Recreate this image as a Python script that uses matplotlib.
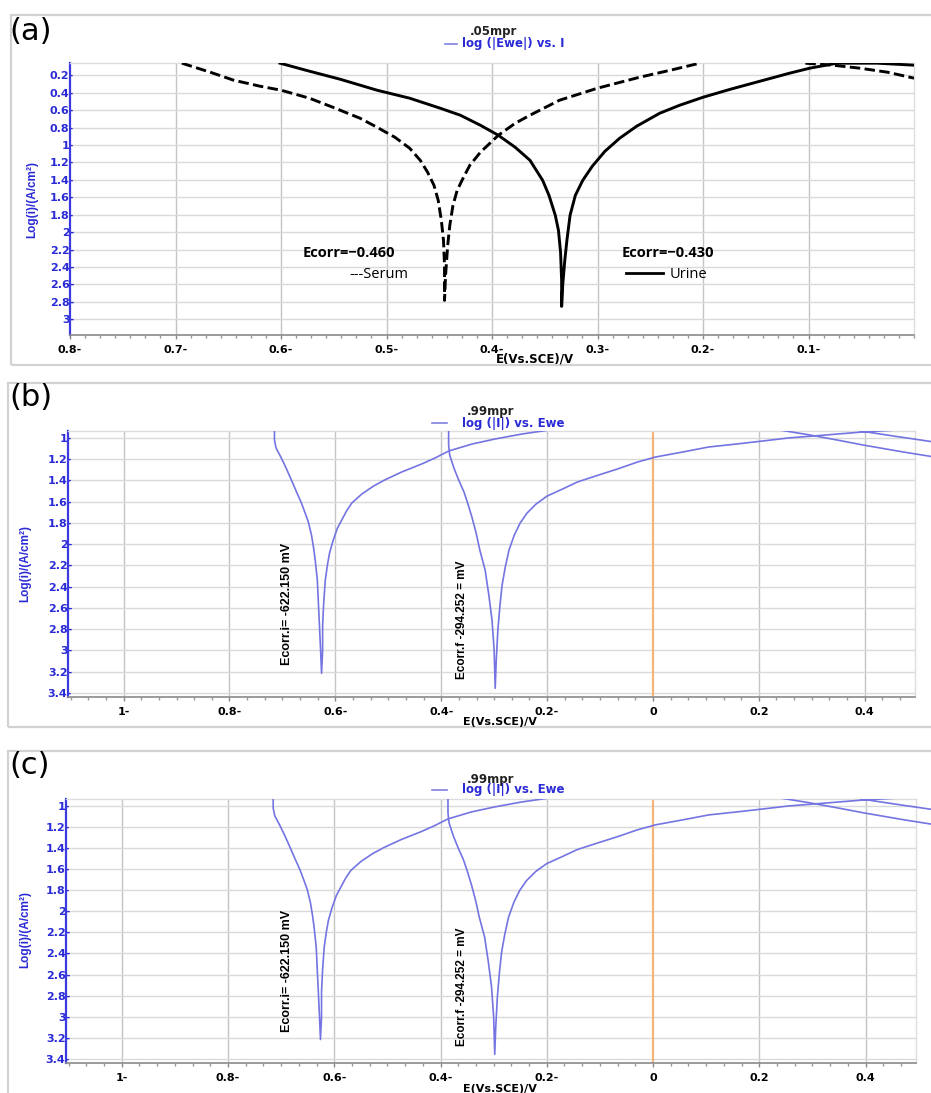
import numpy as np
import matplotlib
matplotlib.use("Agg")
import matplotlib.pyplot as plt
from matplotlib.ticker import MultipleLocator
from matplotlib.patches import Rectangle
from matplotlib.lines import Line2D
from matplotlib.transforms import Bbox, TransformedBbox

# ---------------- data: panel (a) ----------------
a_xticks = [0.8, 0.7, 0.6, 0.5, 0.4, 0.3, 0.2, 0.1]
a_xticklabels = ["0.8-", "0.7-", "0.6-", "0.5-", "0.4-", "0.3-", "0.2-", "0.1-"]
a_yticks = [0.2, 0.4, 0.6, 0.8, 1.0, 1.2, 1.4, 1.6, 1.8, 2.0, 2.2, 2.4, 2.6, 2.8, 3.0]
a_yticklabels = ["0.2-", "0.4-", "0.6-", "0.8-", "1-", "1.2-", "1.4-", "1.6-", "1.8-",
                 "2-", "2.2-", "2.4-", "2.6-", "2.8-", "3-"]

serum_E = [0.694, 0.667, 0.645, 0.620, 0.600, 0.573, 0.551, 0.525, 0.509, 0.492, 0.478,
           0.468, 0.461, 0.455, 0.451, 0.448, 0.446, 0.445, 0.445,
           0.444, 0.442, 0.440, 0.437, 0.433, 0.427, 0.421, 0.411, 0.394, 0.378, 0.364,
           0.336, 0.300, 0.260, 0.231, 0.203,
           np.nan, 0.103, 0.077, 0.051, 0.025, 0.0]
serum_logi = [0.062, 0.166, 0.257, 0.326, 0.372, 0.464, 0.567, 0.694, 0.797, 0.912, 1.038,
              1.176, 1.314, 1.463, 1.635, 1.865, 2.094, 2.381, 2.783,
              2.496, 2.152, 1.922, 1.693, 1.520, 1.371, 1.233, 1.084, 0.889, 0.751, 0.659,
              0.487, 0.349, 0.223, 0.143, 0.062,
              np.nan, 0.062, 0.085, 0.120, 0.166, 0.234]

urine_E = [0.601, 0.573, 0.544, 0.509, 0.478, 0.449, 0.430, 0.411, 0.394, 0.378, 0.364,
           0.352, 0.346, 0.340, 0.337, 0.335, 0.334, 0.334,
           0.333, 0.331, 0.329, 0.326, 0.321, 0.314, 0.305, 0.293, 0.279, 0.263, 0.241,
           0.222, 0.200, 0.174, 0.146, 0.118, 0.099, 0.073, 0.035, 0.0]
urine_logi = [0.062, 0.154, 0.246, 0.372, 0.464, 0.579, 0.659, 0.774, 0.889, 1.027, 1.176,
              1.406, 1.578, 1.807, 1.980, 2.233, 2.554, 2.852,
              2.611, 2.324, 2.094, 1.807, 1.578, 1.406, 1.245, 1.073, 0.923, 0.786, 0.636,
              0.544, 0.453, 0.361, 0.269, 0.177, 0.120, 0.062, 0.062, 0.085]

# ---------------- data: panels (b) and (c) ----------------
bc_xticks = [-1.0, -0.8, -0.6, -0.4, -0.2, 0.0, 0.2, 0.4]
bc_xticklabels = ["1-", "0.8-", "0.6-", "0.4-", "0.2-", "0", "0.2", "0.4"]
bc_yticks = [1.0, 1.2, 1.4, 1.6, 1.8, 2.0, 2.2, 2.4, 2.6, 2.8, 3.0, 3.2, 3.4]
bc_yticklabels = ["1-", "1.2-", "1.4-", "1.6-", "1.8-", "2-", "2.2-", "2.4-", "2.6-", "2.8-",
                  "3-", "3.2-", "3.4-"]

ecorr_i_E = [-0.715, -0.715, -0.712, -0.702, -0.693, -0.683, -0.674, -0.664, -0.657, -0.651,
             -0.645, -0.641, -0.638, -0.634, -0.632, -0.630, -0.628, -0.626,
             -0.624, -0.624, -0.622, -0.619, -0.615, -0.611, -0.604, -0.596, -0.588, -0.579,
             -0.569, -0.550, -0.528, -0.507, -0.475, -0.437, -0.412, -0.386, -0.342, -0.298,
             -0.247, -0.196,
             np.nan, 0.240, 0.297, 0.348, 0.397, 0.473, 0.532]
ecorr_i_logi = [0.934, 1.019, 1.094, 1.189, 1.283, 1.396, 1.500, 1.613, 1.708, 1.792,
                1.915, 2.038, 2.151, 2.340, 2.557, 2.764, 2.981, 3.217,
                3.000, 2.764, 2.557, 2.340, 2.198, 2.085, 1.962, 1.849, 1.774, 1.689,
                1.613, 1.528, 1.453, 1.396, 1.321, 1.245, 1.189, 1.123, 1.057, 1.009,
                0.962, 0.925,
                np.nan, 0.925, 0.972, 1.019, 1.066, 1.132, 1.179]

ecorr_f_E = [-0.386, -0.386, -0.384, -0.376, -0.367, -0.357, -0.350, -0.342, -0.334, -0.327,
             -0.317, -0.310, -0.304, -0.300, -0.298,
             -0.296, -0.293, -0.289, -0.285, -0.279, -0.272, -0.262, -0.251, -0.238, -0.221,
             -0.200, -0.171, -0.143, -0.109, -0.067, -0.029, 0.005, 0.056, 0.105, 0.157,
             0.208, 0.255, 0.303, 0.350, 0.397, 0.460,
             np.nan, 0.392, 0.454, 0.532]
ecorr_f_logi = [0.934, 1.066, 1.160, 1.283, 1.396, 1.509, 1.613, 1.745, 1.896, 2.057,
                2.245, 2.481, 2.717, 3.000, 3.358,
                3.094, 2.811, 2.575, 2.387, 2.217, 2.057, 1.915, 1.802, 1.708, 1.623,
                1.547, 1.481, 1.415, 1.359, 1.292, 1.226, 1.179, 1.132, 1.085, 1.057,
                1.028, 1.000, 0.981, 0.962, 0.943, 0.925,
                np.nan, 0.934, 0.981, 1.038]

# ---------------- figure ----------------
W, H = 931, 1093
fig = plt.figure(figsize=(W / 100, H / 100), dpi=100)
fig.patch.set_facecolor("white")

BLUE_TXT = "#2a2ad6"
CURVE_BLUE = "#7474e2"
GRID_V = "#c4c4c4"
GRID_H = "#dadada"
FRAME = "#d2d2d2"
NARROW = ["Liberation Sans", "DejaVu Sans"]


def fx(px):
    return px / W


def fy(py):
    return 1 - py / H


def add_ax(left, top, right, bottom):
    return fig.add_axes([fx(left), fy(bottom), (right - left) / W, (bottom - top) / H])


def frame(left, top, right, bottom):
    fig.patches.append(Rectangle((fx(left), fy(bottom)), fx(right) - fx(left), fy(top) - fy(bottom),
                                 transform=fig.transFigure, fill=False, edgecolor=FRAME, lw=1.6))


def style_axes(ax, xticks, xlabels, yticks, ylabels, minor_step):
    ax.set_xticks(xticks)
    ax.set_xticklabels(xlabels)
    ax.set_yticks(yticks)
    ax.set_yticklabels(ylabels)
    ax.xaxis.set_minor_locator(MultipleLocator(minor_step))
    ax.tick_params(axis="x", which="major", length=3, width=1, color="#888888", pad=4,
                   labelsize=8, labelcolor="black")
    ax.tick_params(axis="x", which="minor", length=2, width=1, color="#999999")
    ax.tick_params(axis="y", which="major", length=0, pad=-3, labelsize=8, labelcolor=BLUE_TXT)
    for lab in ax.get_xticklabels() + ax.get_yticklabels():
        lab.set_fontweight("bold")
    ax.grid(False)
    for s in ["top", "right"]:
        ax.spines[s].set_color("#dddddd")
        ax.spines[s].set_linewidth(1.0)
    ax.spines["left"].set_color("#3a3ae0")
    ax.spines["left"].set_linewidth(1.6)
    ax.spines["bottom"].set_color("#8a8a8a")
    ax.spines["bottom"].set_linewidth(1.2)


# ================= panel (a) =================
frame(11, 15, 940, 365)
axa = add_ax(70, 63, 914, 335)
axa.set_xlim(0.8, 0.0)
axa.set_ylim(3.18, 0.06)
style_axes(axa, a_xticks, a_xticklabels, a_yticks, a_yticklabels, 0.1 / 7)
for x in a_xticks[1:]:
    axa.axvline(x, color=GRID_V, lw=1.0, zorder=0)
for y in a_yticks:
    axa.axhline(y, color=GRID_H, lw=1.0, zorder=0)
axa.plot(serum_E, serum_logi, color="black", lw=2.1, ls=(0, (3.6, 1.5)), zorder=3)
axa.plot(urine_E, urine_logi, color="black", lw=2.1, zorder=3)

fig.text(fx(9), fy(31), "(a)", fontsize=22, family="DejaVu Sans", va="center", ha="left")
fig.text(fx(470), fy(31), ".05mpr", fontsize=8.5, fontweight="bold", color="#222222",
         va="center", ha="left")
fig.text(fx(462), fy(44), "log (|Ewe|) vs. I", fontsize=8.5, fontweight="bold", color=BLUE_TXT,
         va="center", ha="left")
fig.lines.append(Line2D([fx(445), fx(457)], [fy(44), fy(44)], transform=fig.transFigure,
                        color="#8080e0", lw=1.2))
fig.text(fx(32), fy(200), "Log(i)/(A/cm²)", fontsize=8.5, fontweight="bold", color=BLUE_TXT,
         rotation=90, va="center", ha="center", family=NARROW)
fig.text(fx(535), fy(359), "E(Vs.SCE)/V", fontsize=8.5, fontweight="bold", color="black",
         va="center", ha="center")
fig.text(fx(349), fy(253), "Ecorr=\u22120.460", fontsize=10.5, fontweight="bold",
         family="Open Sans", va="center", ha="center")
fig.text(fx(408), fy(274), "---Serum", fontsize=10.5, family="Open Sans", va="center", ha="right")
fig.text(fx(622), fy(253), "Ecorr=\u22120.430", fontsize=10.5, fontweight="bold",
         family="Open Sans", va="center", ha="left")
fig.lines.append(Line2D([fx(626), fx(663)], [fy(273), fy(273)], transform=fig.transFigure,
                        color="black", lw=2.0))
fig.text(fx(670), fy(274), "Urine", fontsize=10.5, family="Open Sans", va="center", ha="left")


# ================= panels (b) and (c) =================
def panel_bc(letter, frame_top, frame_bottom, ax_left, ax_top, ax_right, ax_bottom, dy):
    frame(8, frame_top, 940, frame_bottom)
    ax = add_ax(ax_left, ax_top, ax_right, ax_bottom)
    ax.set_xlim(-1.105, 0.495)
    ax.set_ylim(3.44, 0.934)
    style_axes(ax, bc_xticks, bc_xticklabels, bc_yticks, bc_yticklabels, 0.2 / 6)
    for x in bc_xticks:
        if x == 0.0:
            ax.axvline(x, color="#f2b57a", lw=1.6, zorder=1)
        else:
            ax.axvline(x, color=GRID_V, lw=1.0, zorder=0)
    for y in bc_yticks:
        ax.axhline(y, color=GRID_H, lw=1.0, zorder=0)
    clip = TransformedBbox(Bbox([[0, 0], [1.025, 1]]), ax.transAxes)
    for xs, ys in [(ecorr_i_E, ecorr_i_logi), (ecorr_f_E, ecorr_f_logi)]:
        ln, = ax.plot(xs, ys, color=CURVE_BLUE, lw=1.2, zorder=3)
        ln.set_clip_path(None)
        ln.set_clip_box(clip)

    fig.text(fx(9), fy(frame_top + 15), letter, fontsize=22, family="DejaVu Sans",
             va="center", ha="left")
    fig.text(fx(467), fy(412 + dy), ".99mpr", fontsize=8.5, fontweight="bold", color="#222222",
             va="center", ha="left")
    fig.text(fx(462), fy(423 + dy), "log (|I|) vs. Ewe", fontsize=8.5, fontweight="bold",
             color=BLUE_TXT, va="center", ha="left")
    fig.lines.append(Line2D([fx(432), fx(447)], [fy(423 + dy), fy(423 + dy)],
                            transform=fig.transFigure, color="#8080e0", lw=1.2))
    fig.text(fx(25), fy(563 + dy), "Log(i)/(A/cm²)", fontsize=8.5, fontweight="bold",
             color=BLUE_TXT, rotation=90, va="center", ha="center", family=NARROW)
    fig.text(fx(500), fy(722 + dy), "E(Vs.SCE)/V", fontsize=8, fontweight="bold",
             color="black", va="center", ha="center")
    fig.text(fx(287), fy(604 + dy), "Ecorr.i= -622.150 mV", fontsize=9, fontweight="bold",
             rotation=90, va="center", ha="center", family=NARROW)
    fig.text(fx(462), fy(620 + dy), "Ecorr.f -294.252 = mV", fontsize=8.5, fontweight="bold",
             rotation=90, va="center", ha="center", family=NARROW)
    return ax


panel_bc("(b)", 383, 727, 68, 431, 915, 697, 0)
panel_bc("(c)", 751, 1110, 66, 799, 916, 1063, 367)

fig.savefig("out.png", dpi=100, facecolor="white")
